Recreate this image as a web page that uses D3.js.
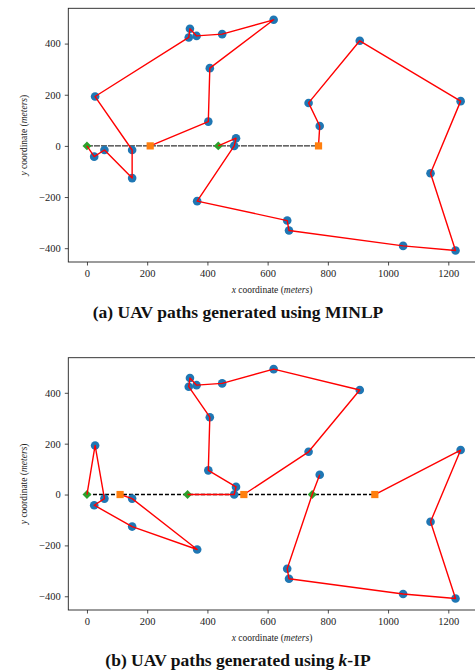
<!DOCTYPE html>
<html>
<head>
<meta charset="utf-8">
<script src="https://cdn.jsdelivr.net/npm/d3@7"></script>
<style>
  body { margin: 0; background: #fff; }
  svg { display: block; }
  .tick text { font-family: "Liberation Serif", "DejaVu Serif", serif; font-size: 10.5px; fill: #222; }
  .lbl { font-family: "Liberation Serif", serif; font-size: 9.5px; fill: #222; }
  .cap { font-family: "Liberation Serif", serif; font-size: 17.5px; font-weight: bold; fill: #111; }
</style>
</head>
<body>
<div id="chart"></div>
<script>
var width = 475;
var height = 672;

// target locations (meters)
var targets = [
  [342, 458], [338, 424], [364, 430], [449, 437], [620, 493], [408, 304],
  [403, 95], [27, 193], [150, -16], [24, -42], [58, -16], [150, -126],
  [366, -216], [495, 30], [489, 0], [906, 411], [1241, 175], [736, 168],
  [773, 78], [1141, -107], [665, -292], [671, -331], [1050, -391], [1224, -409]
];

// (a) MINLP
var depotsA = [[0, 0], [436, 0]];
var refuelA = [[210, 0], [769, 0]];
var roadEndA = 769;
var routesA = [
  [[0, 0], [24, -42], [58, -16], [150, -126], [150, -16], [27, 193], [338, 424],
   [342, 458], [364, 430], [449, 437], [620, 493], [408, 304], [403, 95], [210, 0]],
  [[436, 0], [495, 30], [489, 0], [366, -216], [665, -292], [671, -331], [1050, -391],
   [1224, -409], [1141, -107], [1241, 175], [906, 411], [736, 168], [773, 78], [769, 0]]
];

// (b) k-IP
var depotsB = [[0, 0], [334, 0], [748, 0]];
var refuelB = [[110, 0], [521, 0], [956, 0]];
var roadEndB = 956;
var routesB = [
  [[0, 0], [27, 193], [58, -16], [24, -42], [150, -126], [366, -216], [150, -16], [110, 0]],
  [[334, 0], [489, 0], [495, 30], [403, 95], [408, 304], [338, 424], [342, 458],
   [364, 430], [449, 437], [620, 493], [906, 411], [736, 168], [521, 0]],
  [[773, 78], [748, 0], [665, -292], [671, -331], [1050, -391], [1224, -409],
   [1141, -107], [1241, 175], [956, 0]]
];

var xTicks = [0, 200, 400, 600, 800, 1000, 1200];
var yTicks = [-400, -200, 0, 200, 400];

var svg = d3.select("#chart")
    .append("svg")
    .attr("width", width)
    .attr("height", height);

function drawPanel(top, bottom, depots, refuel, roadEnd, routes, dashed, caption) {
    var x = d3.scaleLinear().domain([-62, 1292]).range([68.3, 476]);
    var y = d3.scaleLinear().domain([-454, 538]).range([bottom, top]);
    var g = svg.append("g");

    g.append("rect")
        .attr("x", 68.3).attr("y", top)
        .attr("width", 476 - 68.3).attr("height", bottom - top)
        .attr("fill", "none").attr("stroke", "#222").attr("stroke-width", 0.9);

    var fmt = function(d) { return d < 0 ? "\u2212" + Math.abs(d) : d; };

    var xAxis = g.append("g")
        .attr("transform", "translate(0," + bottom + ")")
        .call(d3.axisBottom(x).tickValues(xTicks).tickSize(3.5).tickPadding(4).tickFormat(fmt));
    var yAxis = g.append("g")
        .attr("transform", "translate(68.3,0)")
        .call(d3.axisLeft(y).tickValues(yTicks).tickSize(3.5).tickPadding(4).tickFormat(fmt));
    [xAxis, yAxis].forEach(function(a) {
        a.select(".domain").remove();
        a.selectAll("line").attr("stroke", "#222").attr("stroke-width", 0.8);
    });

    var plot = g.append("g");

    // road segment
    plot.append("line")
        .attr("x1", x(0)).attr("x2", x(roadEnd))
        .attr("y1", y(0)).attr("y2", y(0))
        .attr("stroke", "#000")
        .attr("stroke-width", dashed ? 1.5 : 1)
        .attr("stroke-dasharray", dashed ? "4,2" : "6,1");

    plot.selectAll(".target")
        .data(targets)
        .enter()
        .append("circle")
        .attr("cx", function(d) { return x(d[0]); })
        .attr("cy", function(d) { return y(d[1]); })
        .attr("r", 4.3)
        .attr("fill", "#1f77b4");

    plot.selectAll(".depot")
        .data(depots)
        .enter()
        .append("path")
        .attr("d", d3.symbol().type(d3.symbolSquare).size(40))
        .attr("transform", function(d) { return "translate(" + x(d[0]) + "," + y(d[1]) + ") rotate(45)"; })
        .attr("fill", "#2ca02c");

    var line = d3.line()
        .x(function(d) { return x(d[0]); })
        .y(function(d) { return y(d[1]); });

    plot.selectAll(".route")
        .data(routes)
        .enter()
        .append("path")
        .attr("d", line)
        .attr("fill", "none")
        .attr("stroke", "#ff0000")
        .attr("stroke-width", 1.4)
        .attr("stroke-linejoin", "round");

    plot.selectAll(".refuel")
        .data(refuel)
        .enter()
        .append("rect")
        .attr("x", function(d) { return x(d[0]) - 3.6; })
        .attr("y", function(d) { return y(d[1]) - 3.6; })
        .attr("width", 7.2).attr("height", 7.2)
        .attr("fill", "#ff7f0e");

    // axis labels
    var xl = g.append("text").attr("class", "lbl")
        .attr("x", 272).attr("y", bottom + 31)
        .attr("text-anchor", "middle");
    xl.append("tspan").attr("font-style", "italic").text("x");
    xl.append("tspan").text(" coordinate (");
    xl.append("tspan").attr("font-style", "italic").text("meters");
    xl.append("tspan").text(")");

    var yl = g.append("text").attr("class", "lbl")
        .attr("transform", "translate(27," + ((top + bottom) / 2) + ") rotate(-90)")
        .attr("text-anchor", "middle");
    yl.append("tspan").attr("font-style", "italic").text("y");
    yl.append("tspan").text(" coordinate (");
    yl.append("tspan").attr("font-style", "italic").text("meters");
    yl.append("tspan").text(")");

    var cap = g.append("text").attr("class", "cap")
        .attr("x", 238).attr("y", bottom + 56)
        .attr("text-anchor", "middle");
    caption.forEach(function(c) {
        cap.append("tspan").attr("font-style", c.italic ? "italic" : null).text(c.t);
    });
}

drawPanel(8.3, 262, depotsA, refuelA, roadEndA, routesA, false,
    [{t: "(a) UAV paths generated using MINLP"}]);
drawPanel(357.7, 610, depotsB, refuelB, roadEndB, routesB, true,
    [{t: "(b) UAV paths generated using "}, {t: "k", italic: true}, {t: "-IP"}]);
</script>
</body>
</html>
